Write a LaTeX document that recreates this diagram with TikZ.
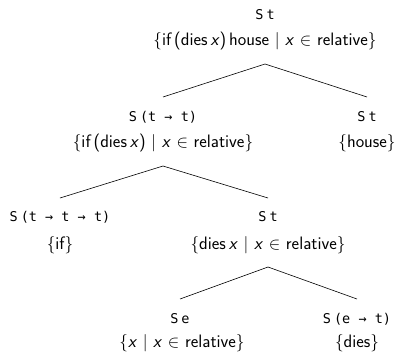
\documentclass[tikz,border=0pt]{standalone}
\usepackage{fontspec}
\newfontfamily\tyfont{DejaVu Sans Mono}
\begin{document}
\begin{tikzpicture}[x=1pt,y=-1pt,
  ty/.style={font=\tyfont\fontsize{13.5}{15}\selectfont, inner sep=0pt, text height=9.8pt, text depth=2.6pt},
  den/.style={font=\sffamily\fontsize{18}{20}\selectfont, inner sep=0pt, text height=13.4pt, text depth=4.6pt},
  edge/.style={draw=black, line width=0.6pt}]
\useasboundingbox (0,0) rectangle (398,357);
\newcommand{\vx}{\textit{x}}
\newcommand{\gp}{\hspace{3pt}}
% root
\node[ty]  (t0) at (265,16) {S\gp t};
\node[den] (s0) at (265,41) {$\{$if\,(dies\,\vx)\,house $\mid$ \vx\ $\in$ relative$\}$};
% level 1
\node[ty]  (t1) at (163,118) {S\gp(t → t)};
\node[den] (s1) at (163,143) {$\{$if\,(dies\,\vx) $\mid$ \vx\ $\in$ relative$\}$};
\node[ty]  (t2) at (367,118) {S\gp t};
\node[den] (s2) at (367,143) {$\{$house$\}$};
% level 2
\node[ty]  (t3) at (60,218) {S\gp(t → t → t)};
\node[den] (s3) at (60,245) {$\{$if$\}$};
\node[ty]  (t4) at (268,218) {S\gp t};
\node[den] (s4) at (268,245) {$\{$dies\,\vx\ $\mid$ \vx\ $\in$ relative$\}$};
% level 3
\node[ty]  (t5) at (180,320) {S\gp e};
\node[den] (s5) at (182,343) {$\{$\vx\ $\mid$ \vx\ $\in$ relative$\}$};
\node[ty]  (t6) at (357,320) {S\gp(e → t)};
\node[den] (s6) at (357,343) {$\{$dies$\}$};
% connectors
\draw[edge] ([yshift=-23pt]s0.center) -- ([yshift=21pt]t1.center);
\draw[edge] ([yshift=-23pt]s0.center) -- ([yshift=21pt]t2.center);
\draw[edge] ([yshift=-23pt]s1.center) -- ([yshift=20pt]t3.center);
\draw[edge] ([yshift=-23pt]s1.center) -- ([yshift=20pt]t4.center);
\draw[edge] ([yshift=-22pt]s4.center) -- ([yshift=21pt]t5.center);
\draw[edge] ([yshift=-22pt]s4.center) -- ([yshift=21pt]t6.center);
\end{tikzpicture}
\end{document}
